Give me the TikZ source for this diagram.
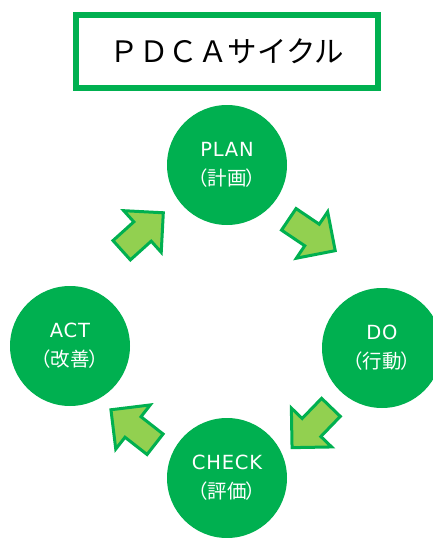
\documentclass[tikz,border=0pt]{standalone}
\usepackage{fontspec}
\setmainfont{Noto Sans CJK JP}
\newfontfamily\latinfont{DejaVu Sans}[LetterSpace=4]
\newfontfamily\jpfont{Noto Sans CJK JP}[RawFeature=+palt]
\definecolor{cyclegreen}{HTML}{00B050}
\definecolor{arrowgreen}{HTML}{92D050}
\tikzset{
  phase/.style={circle, fill=cyclegreen, minimum size=120pt, inner sep=0pt,
    text=white, align=center, font=\fontsize{19.5}{29}\selectfont},
  titlebox/.style={draw=cyclegreen, line width=6pt, minimum width=302pt,
    minimum height=73pt, inner sep=0pt, font=\fontsize{29.5}{30}\selectfont},
  pics/blockarrow/.style={code={
    \draw[draw=cyclegreen, fill=arrowgreen, line width=3pt, line join=miter]
      (28,0) -- (0,28) -- (0,13) -- (-28,13) -- (-28,-13) -- (0,-13) -- (0,-28) -- cycle;
  }}
}
\begin{document}
\begin{tikzpicture}[x=1pt, y=-1pt]
  \useasboundingbox (0,0) rectangle (433,538);
  \clip (0,0) rectangle (433,538);

  % heading
  \node[titlebox] (title) at (227,51.5) {ＰＤＣＡサイクル};

  % the four phases
  \node[phase] (plan)  at (227,165) {{\latinfont PLAN}\\{\jpfont （計画）}};
  \node[phase] (do)    at (382,348) {{\latinfont DO}\\{\jpfont （行動）}};
  \node[phase] (check) at (227,478) {{\latinfont CHECK}\\{\jpfont （評価）}};
  \node[phase] (act)   at (70,346)  {{\latinfont ACT}\\{\jpfont （改善）}};

  % block arrows between the phases
  \pic[rotate=42]   (a1) at (142.5,231.5) {blockarrow};
  \pic[rotate=-34]  (a2) at (312,235)     {blockarrow};
  \pic[rotate=-134] (a3) at (311.5,427.5) {blockarrow};
  \pic[rotate=142]  (a4) at (133,427)     {blockarrow};
\end{tikzpicture}
\end{document}
